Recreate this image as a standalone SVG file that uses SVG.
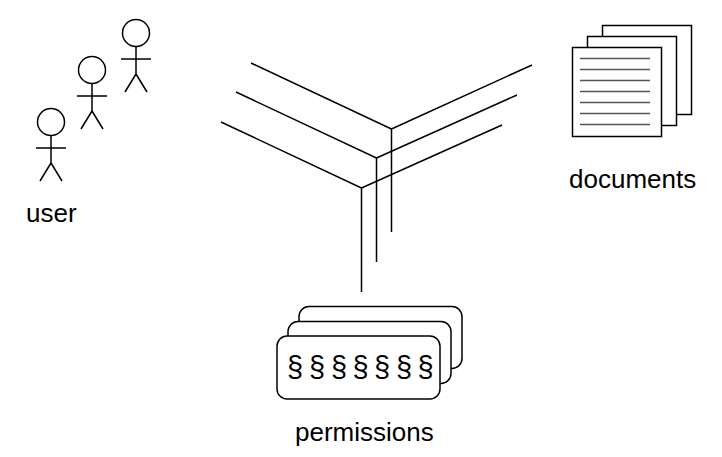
<svg xmlns="http://www.w3.org/2000/svg" width="722" height="457" viewBox="0 0 722 457">
<style>
.l{fill:none;stroke:#000;stroke-width:1.5}
.f{fill:#fff;stroke:#000;stroke-width:1.5}
.r{stroke:#555;stroke-width:1.5}
text{font-family:"Liberation Sans",Arial,sans-serif;font-size:26px;fill:#000}
.s{font-size:29px;text-anchor:middle}
</style>
<defs>
<g id="person" class="l">
<circle cx="0" cy="0" r="13.500"/>
<path d="M0 14V41M-15 26H15M0 41L-11 59M0 41L11 59"/>
</g>
</defs>
<rect width="722" height="457" fill="#fff"/>
<g id="connectors" class="l">
<path d="M251 63L391.500 129V232M532 65L391.500 129"/>
<path d="M236 92L376.500 158V262M517 95L376.500 158"/>
<path d="M221 122L361.500 188V292M502 125L361.500 188"/>
</g>
<g id="user">
<use href="#person" x="136" y="33"/>
<use href="#person" x="92" y="70"/>
<use href="#person" x="51" y="122"/>
<text x="26" y="222">user</text>
</g>
<g id="documents">
<rect class="f" x="602.500" y="25.500" width="89" height="89"/>
<rect class="f" x="587.500" y="36.500" width="89" height="89"/>
<rect class="f" x="572.500" y="47.500" width="89" height="89"/>
<path class="r" d="M580 58.500H650M580 69.500H650M580 80.500H650M580 91.500H650M580 102.500H650M580 113.500H650M580 124.500H650"/>
<text x="569" y="188">documents</text>
</g>
<g id="permissions">
<rect class="f" x="299" y="306.500" width="163" height="62" rx="10"/>
<rect class="f" x="288" y="321.500" width="163" height="62" rx="10"/>
<rect class="f" x="277" y="336" width="163" height="63" rx="10"/>
<g>
<text class="s" x="295" y="376.500">§</text>
<text class="s" x="317" y="376.500">§</text>
<text class="s" x="339" y="376.500">§</text>
<text class="s" x="360.500" y="376.500">§</text>
<text class="s" x="382" y="376.500">§</text>
<text class="s" x="404" y="376.500">§</text>
<text class="s" x="425.500" y="376.500">§</text>
</g>
<text x="295" y="441">permissions</text>
</g>
</svg>
